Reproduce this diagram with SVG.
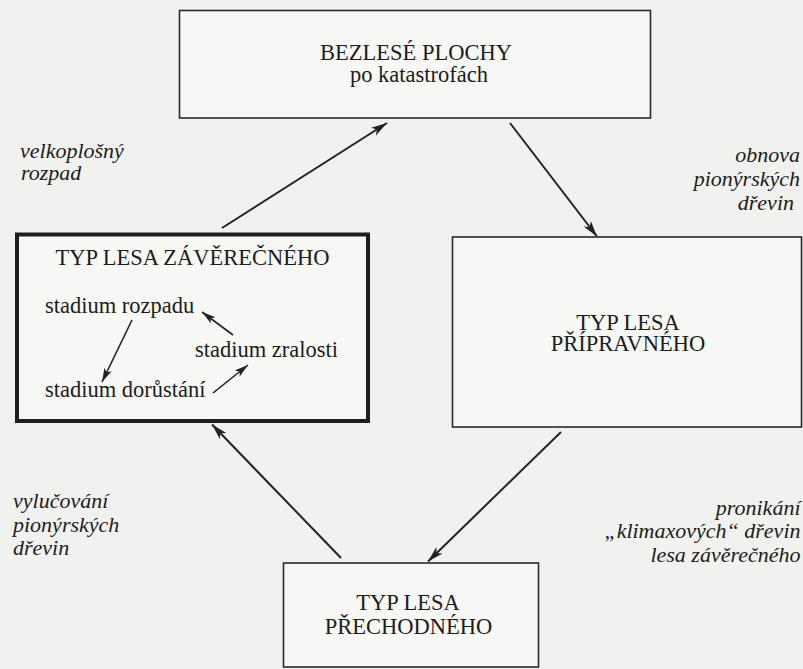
<svg xmlns="http://www.w3.org/2000/svg" width="803" height="669" viewBox="0 0 803 669">
  <style>
    .box { fill: #f7f7f5; stroke: #2a2a2a; stroke-width: 1.6; }
    .thick { stroke: #1e1e1e; stroke-width: 4; }
    .t { font-family: 'Liberation Serif', serif; font-size: 22.5px; fill: #1c1c1c; }
    .c { text-anchor: middle; }
    .lbl { font-family: 'Liberation Serif', serif; font-style: italic; font-size: 22px; fill: #1c1c1c; }
    .e { text-anchor: end; }
    .conn { stroke: #222; stroke-width: 2; fill: none; marker-end: url(#ah); }
    .inner { stroke: #222; stroke-width: 1.6; fill: none; marker-end: url(#ahs); }
  </style>
  <defs>
    <marker id="ah" viewBox="0 0 16 10" refX="16" refY="5" markerWidth="16" markerHeight="10" orient="auto" markerUnits="userSpaceOnUse">
      <path d="M0,0.5 L16,5 L0,9.5 L4,5 z" fill="#222"/>
    </marker>
    <marker id="ahs" viewBox="0 0 14 9" refX="14" refY="4.5" markerWidth="14" markerHeight="9" orient="auto" markerUnits="userSpaceOnUse">
      <path d="M0,0.5 L14,4.5 L0,8.5 L3.5,4.5 z" fill="#222"/>
    </marker>
  </defs>
  <rect x="0" y="0" width="803" height="669" fill="#f1f1ef"/>
  <g id="bezlese">
    <rect class="box" x="179.5" y="10.5" width="471" height="107.5"/>
    <text class="t c" x="416" y="60">BEZLESÉ PLOCHY</text>
    <text class="t c" x="419" y="82">po katastrofách</text>
  </g>
  <g id="zaverecny">
    <rect class="box thick" x="17" y="234.5" width="351" height="186.5"/>
    <text class="t c" x="192.5" y="265">TYP LESA ZÁVĚREČNÉHO</text>
    <g id="stadium-rozpadu"><text class="t" x="45" y="313">stadium rozpadu</text></g>
    <g id="stadium-zralosti"><text class="t" x="195" y="357">stadium zralosti</text></g>
    <g id="stadium-dorustani"><text class="t" x="45" y="397">stadium dorůstání</text></g>
  </g>
  <g id="pripravny">
    <rect class="box" x="452.5" y="237" width="349" height="190"/>
    <text class="t c" x="628" y="329.5">TYP LESA</text>
    <text class="t c" x="628" y="350.5">PŘÍPRAVNÉHO</text>
  </g>
  <g id="prechodny">
    <rect class="box" x="283.5" y="563" width="255" height="104"/>
    <text class="t c" x="408" y="610">TYP LESA</text>
    <text class="t c" x="408.5" y="634">PŘECHODNÉHO</text>
  </g>
  <g id="connectors">
    <line class="conn" x1="222" y1="228" x2="387" y2="123"/>
    <line class="conn" x1="510" y1="123" x2="597" y2="236.5"/>
    <line class="conn" x1="561" y1="432" x2="428" y2="561.5"/>
    <line class="conn" x1="341" y1="558" x2="212" y2="424.5"/>
    <line class="inner" x1="132" y1="320" x2="102" y2="382"/>
    <line class="inner" x1="233" y1="335" x2="202" y2="312"/>
    <line class="inner" x1="213" y1="393" x2="248" y2="365"/>
  </g>
  <g id="labels">
    <text class="lbl" x="20" y="158">velkoplošný</text>
    <text class="lbl" x="21" y="180">rozpad</text>
    <text class="lbl e" x="800" y="162">obnova</text>
    <text class="lbl e" x="800" y="186">pionýrských</text>
    <text class="lbl e" x="794" y="210">dřevin</text>
    <text class="lbl" x="13" y="508">vylučování</text>
    <text class="lbl" x="13" y="532">pionýrských</text>
    <text class="lbl" x="13" y="555">dřevin</text>
    <text class="lbl e" x="800.5" y="515">pronikání</text>
    <text class="lbl e" x="800.5" y="538">„klimaxových“ dřevin</text>
    <text class="lbl e" x="800.5" y="562">lesa závěrečného</text>
  </g>
</svg>
